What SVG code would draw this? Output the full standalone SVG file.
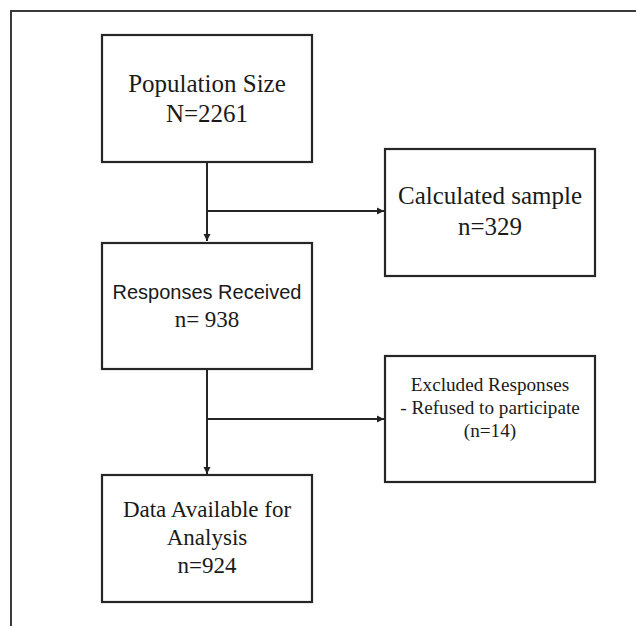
<svg xmlns="http://www.w3.org/2000/svg" width="636" height="626" viewBox="0 0 636 626">
<defs>
<marker id="ah" markerWidth="8" markerHeight="8" refX="7" refY="4" orient="auto" markerUnits="userSpaceOnUse">
<path d="M0,0.5 L7,4 L0,7.5 Z" fill="#222"/>
</marker>
<style>
.box{fill:#fff;stroke:#262626;stroke-width:2.2}
.t{font-family:"Liberation Serif","Times New Roman",serif;fill:#1a1a1a;text-anchor:middle}
.s{font-family:"Liberation Sans",Arial,sans-serif;fill:#1a1a1a;text-anchor:middle}
.ln{stroke:#262626;stroke-width:2;fill:none}
</style>
</defs>
<rect width="636" height="626" fill="#fff"/>
<g id="frame">
<path d="M11,626 L11,11 L636,11" fill="none" stroke="#3a3a3a" stroke-width="2"/>
</g>
<g id="connectors">
<path class="ln" d="M207,162 L207,241" marker-end="url(#ah)"/>
<path class="ln" d="M207,211 L384,211" marker-end="url(#ah)"/>
<path class="ln" d="M207,369 L207,474" marker-end="url(#ah)"/>
<path class="ln" d="M207,419 L384,419" marker-end="url(#ah)"/>
</g>
<g id="population">
<rect class="box" x="102" y="35" width="210" height="127"/>
<text class="t" font-size="25" x="207" y="92">Population Size</text>
<text class="t" font-size="25" x="207" y="122">N=2261</text>
</g>
<g id="calculated">
<rect class="box" x="385" y="149" width="210" height="127"/>
<text class="t" font-size="25" x="490" y="204">Calculated sample</text>
<text class="t" font-size="25" x="490" y="235">n=329</text>
</g>
<g id="responses">
<rect class="box" x="102" y="243" width="210" height="126"/>
<text class="s" font-size="20" x="207" y="299">Responses Received</text>
<text class="t" font-size="23" x="207" y="327">n= 938</text>
</g>
<g id="excluded">
<rect class="box" x="385" y="356" width="210" height="126"/>
<text class="t" font-size="19.2" x="490" y="391">Excluded Responses</text>
<text class="t" font-size="19.2" x="490" y="414">- Refused to participate</text>
<text class="t" font-size="19.2" x="490" y="437">(n=14)</text>
</g>
<g id="data">
<rect class="box" x="102" y="475" width="210" height="127"/>
<text class="t" font-size="23" x="207" y="517">Data Available for</text>
<text class="t" font-size="23" x="207" y="545">Analysis</text>
<text class="t" font-size="23" x="207" y="573">n=924</text>
</g>
</svg>
